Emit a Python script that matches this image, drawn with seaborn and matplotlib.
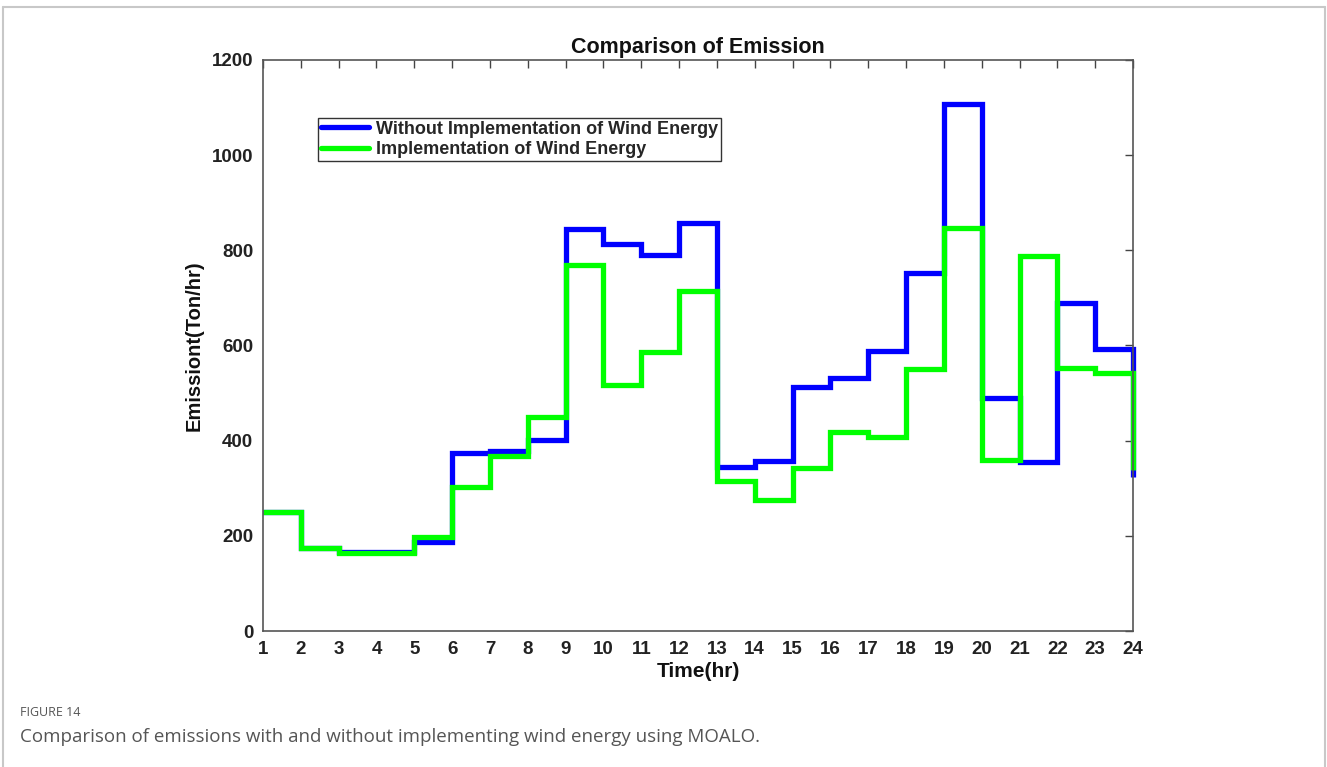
import matplotlib
matplotlib.use("Agg")
import matplotlib.pyplot as plt
import seaborn as sns
import pandas as pd
from matplotlib.lines import Line2D

hours = list(range(1, 25))
without_wind = [250, 175, 166, 166, 187, 374, 378, 402, 845, 813, 791, 858,
                345, 357, 512, 532, 588, 752, 1107, 490, 355, 689, 593, 324]
with_wind = [250, 175, 164, 164, 198, 303, 368, 450, 769, 518, 586, 714,
             315, 275, 342, 418, 408, 551, 847, 359, 788, 553, 542, 338]
series_names = ["Without Implementation of Wind Energy", "Implementation of Wind Energy"]
x_ticks = hours
y_ticks = [0, 200, 400, 600, 800, 1000, 1200]

df = pd.DataFrame({
    "Time": hours + hours,
    "Emission": without_wind + with_wind,
    "Series": [series_names[0]] * len(hours) + [series_names[1]] * len(hours),
})

sns.set_theme(style="white")
plt.rcParams["font.family"] = ["Liberation Sans", "DejaVu Sans"]

fig = plt.figure(figsize=(13.27, 7.67), dpi=100)
ax = fig.add_axes([263 / 1327, 1 - 631 / 767, (1133 - 263) / 1327, (631 - 60) / 767])

palette = {series_names[0]: "#0000ff", series_names[1]: "#00ff00"}
sns.lineplot(data=df, x="Time", y="Emission", hue="Series", palette=palette,
             drawstyle="steps-post", linewidth=3.8, estimator=None, ax=ax,
             legend=False, solid_joinstyle="miter", solid_capstyle="butt")
for ln in ax.get_lines():
    ln.set_clip_on(False)

ax.set_xlim(1, 24)
ax.set_ylim(0, 1200)
ax.set_xticks(x_ticks)
ax.set_yticks(y_ticks)
ax.tick_params(direction="in", length=6, width=1.0, colors="#444444",
               top=True, right=True, labelsize=13.5, pad=7)
for lab in ax.get_xticklabels() + ax.get_yticklabels():
    lab.set_fontweight("bold")
    lab.set_color("#222222")
for sp in ax.spines.values():
    sp.set_visible(True)
    sp.set_color("#555555")
    sp.set_linewidth(1.2)

ax.set_xlabel("Time(hr)", fontsize=15, fontweight="bold", color="#111111", labelpad=3)
ax.set_ylabel("Emissiont(Ton/hr)", fontsize=14.5, fontweight="bold", color="#111111", labelpad=6)
ax.set_title("Comparison of Emission", fontsize=15.5, fontweight="bold", color="#111111", pad=5)

handles = [Line2D([0], [0], color=palette[n], linewidth=3.8) for n in series_names]
leg = ax.legend(handles, series_names, loc="upper left", bbox_to_anchor=(55 / 870, 1 - 58 / 571),
                frameon=True, fancybox=False, framealpha=1, edgecolor="#333333",
                prop={"weight": "bold", "size": 13}, handlelength=2.7, handletextpad=0.35,
                borderpad=0.15, labelspacing=0.2, borderaxespad=0)
leg.get_frame().set_linewidth(1.0)

# caption
fig.text(20 / 1327, 1 - 712 / 767, "FIGURE 14", fontsize=9, color="#555555",
         family=["Open Sans", "DejaVu Sans"], va="center")
fig.text(20 / 1327, 1 - 737 / 767,
         "Comparison of emissions with and without implementing wind energy using MOALO.",
         fontsize=13.5, color="#555555", family=["Open Sans", "DejaVu Sans"], va="center")

# outer frame
for xs, ys in [([3, 1325], [7, 7]), ([3, 3], [7, 767]), ([1325, 1325], [7, 767])]:
    fig.add_artist(Line2D([x / 1327 for x in xs], [1 - y / 767 for y in ys],
                          color="#c8c8c8", linewidth=1.5))

fig.savefig("out.png", dpi=100)
